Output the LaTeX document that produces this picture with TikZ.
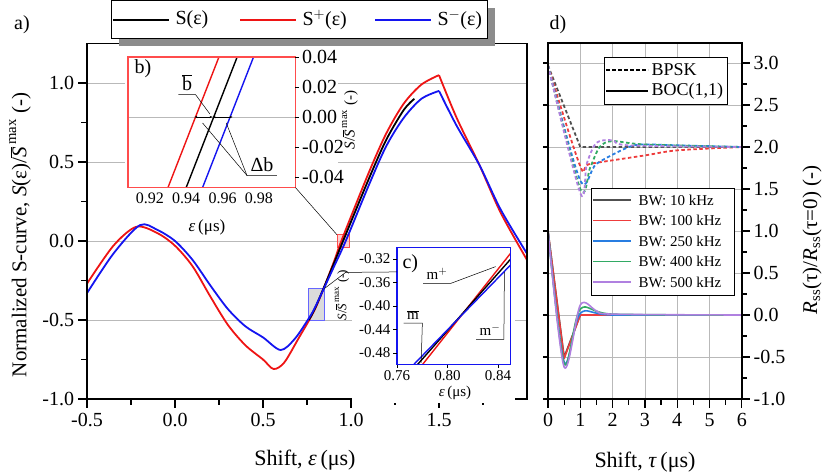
\documentclass[tikz,border=0pt]{standalone}
\usepackage{fontspec}
\setmainfont{Liberation Serif}
\usetikzlibrary{arrows.meta,positioning}
\definecolor{sred}{RGB}{238,20,20}
\definecolor{sblue}{RGB}{20,20,240}
\definecolor{bwgray}{RGB}{80,80,80}
\definecolor{bwred}{RGB}{238,60,60}
\definecolor{bwblue}{RGB}{40,125,225}
\definecolor{bwgreen}{RGB}{50,170,100}
\definecolor{bwpurple}{RGB}{176,128,224}

\begin{document}
\begin{tikzpicture}[
        x=1pt, y=1pt,
        font=\fontsize{20}{22}\selectfont,
        gridline/.style={draw=gray!55, line width=0.8pt},
        frame/.style={draw, line width=1.4pt},
        curve/.style={line width=1.8pt, line join=round},
        bocline/.style={line width=1.6pt, line join=round},
        bpskline/.style={line width=1.8pt, dash pattern=on 3.5pt off 2.5pt},
        tick/.style={line width=1.2pt},
        small/.style={font=\fontsize{15}{17}\selectfont},
        leader/.style={draw, line width=0.5pt}
    ]
    \useasboundingbox (0,0) rectangle (830,475);

    % ---- panel a)
    \begin{scope}[shift={(175pt,234pt)}, x=176pt, y=158pt]
        \foreach \v in {-0.5,0,0.5,1} \draw[gridline] (-0.5,\v) -- (2,\v);
        % zoom boxes
        \draw[draw=red!70, fill=red!30, fill opacity=0.6, line width=0.8pt] (0.92,-0.04) rectangle (0.99,0.04);
        \draw[draw=blue!60, fill=gray!40, fill opacity=0.7, line width=0.8pt] (0.76,-0.5) rectangle (0.85,-0.3);
        \coordinate (zb) at (0.92,0.04);
        \coordinate (zc) at (0.85,-0.3);
        % curves
        \draw[curve, sred] plot[smooth] coordinates {(-0.5,-0.27) (-0.35,-0.03) (-0.22,0.09) (-0.1,0.05) (0.0,-0.03) (0.1,-0.16) (0.2,-0.35) (0.3,-0.53) (0.4,-0.66) (0.5,-0.75) (0.56,-0.81) (0.62,-0.77) (0.7,-0.62) (0.8,-0.42) (0.9,-0.14) (0.945,0.0) (1.1,0.43) (1.2,0.68) (1.3,0.87) (1.4,0.99) (1.5,1.05)};
        \draw[curve, sred] plot[smooth] coordinates {(1.5,1.05) (1.6,0.78) (1.73,0.48) (1.85,0.18) (2.0,-0.12)};
        \draw[curve, black] plot[smooth] coordinates {(0.76,-0.5) (0.8,-0.415) (0.9,-0.15) (0.955,0) (1.1,0.39) (1.2,0.64) (1.3,0.83) (1.36,0.9)};
        \draw[curve, sblue] plot[smooth] coordinates {(-0.5,-0.33) (-0.35,-0.08) (-0.2,0.10) (-0.1,0.07) (0.0,0.0) (0.1,-0.12) (0.2,-0.28) (0.3,-0.43) (0.4,-0.54) (0.5,-0.61) (0.6,-0.69) (0.68,-0.62) (0.76,-0.49) (0.8,-0.41) (0.9,-0.17) (0.97,0.0) (1.1,0.35) (1.2,0.6) (1.3,0.78) (1.4,0.9) (1.5,0.95)};
        \draw[curve, sblue] plot[smooth] coordinates {(1.5,0.95) (1.6,0.73) (1.73,0.48) (1.85,0.2) (2.0,-0.08)};
        % frame and ticks
        \draw[frame] (-0.5,-1) rectangle (2,1.25);
        \foreach \x/\l in {-0.5/-0.5,0/0.0,0.5/0.5,1/1.0,1.5/1.5} {
            \draw[tick] (\x,-1) -- ++(0,-9pt) node[below=1pt] {\l};
        }
        \foreach \x in {-0.25,0.25,0.75,1.25,1.75} \draw[tick] (\x,-1) -- ++(0,-6pt);
        \foreach \y/\l in {-1/-1.0,-0.5/-0.5,0/0.0,0.5/0.5,1/1.0} {
            \draw[tick] (-0.5,\y) -- ++(-9pt,0) node[left=0pt] {\l};
        }
        \foreach \y in {-0.75,-0.25,0.25,0.75} \draw[tick] (-0.5,\y) -- ++(-6pt,0);
    \end{scope}
    \node (la) at (22,450) {a)};
    \node[font=\fontsize{22}{24}\selectfont] (xa) at (305,15) {Shift, \textit{ε}\,(μs)};
    \node[rotate=90, font=\fontsize{21}{23}\selectfont] (ya) at (20,240) {Normalized S-curve, \textit{S}(ε)/$\overline{\mbox{\textit{S}}}^{\,\mathrm{max}}$ (-)};

    % legend a)
    \fill[gray!90] (119,429) rectangle (495,467);
    \draw[fill=white, line width=0.8pt] (111,437) rectangle (487,475);
    \draw[curve, black] (113,455) -- (169,455);
    \node[anchor=west] (ls) at (172,455) {S(ε)};
    \draw[curve, sred] (240,455) -- (296,455);
    \node[anchor=west] (lsp) at (299,455) {S$^+$(ε)};
    \draw[curve, sblue] (375,455) -- (431,455);
    \node[anchor=west] (lsm) at (434,455) {S$^-$(ε)};

    % ---- inset b)
    \fill[white] (125,262) rectangle (338,420);
    \begin{scope}[shift={(-1524.6pt,358pt)}, x=1820pt, y=1500pt]
        \draw[gridline, line width=0.5pt] (0.908,0) -- (1.0,0);
        \begin{scope}
            \clip (0.908,-0.047) rectangle (1.0,0.04);
            \draw[curve, line width=1.4pt, sred] (0.930,-0.047) -- (0.958,0.04);
            \draw[curve, line width=1.4pt, black] (0.940,-0.047) -- (0.968,0.04);
            \draw[curve, line width=1.4pt, sblue] (0.949,-0.047) -- (0.977,0.04);
        \end{scope}
        \draw[{Stealth[length=3pt]}-{Stealth[length=3pt]}, line width=0.6pt] (0.9445,0) -- (0.9545,0);
        \draw[{Stealth[length=3pt]}-{Stealth[length=3pt]}, line width=0.6pt] (0.9545,0) -- (0.9655,0);
        \coordinate (tb) at (0.953,0.002);
        \coordinate (tdl) at (0.949,-0.004);
        \coordinate (tdr) at (0.962,-0.004);
        \draw[draw=red!70, line width=1.2pt] (0.908,-0.047) rectangle (1.0,0.04);
        \coordinate (cb) at (1.0,-0.047);
        \foreach \y/\l in {-0.04/-0.04,-0.02/-0.02,0/0.00,0.02/0.02,0.04/0.04} {
            \draw[line width=0.8pt] (1.0,\y) -- ++(4pt,0) node[right=-1pt] {\l};
        }
        \foreach \x in {0.92,0.94,0.96,0.98} \node[below=2pt, font=\fontsize{16}{18}\selectfont] at (\x,-0.047) {\x};
    \end{scope}
    \node[anchor=west] (lbb) at (131,406) {b)};
    \node[small, font=\fontsize{17}{19}\selectfont] (lx) at (207,248) {\textit{ε}\,(μs)};
    \node[rotate=90, small] (ly) at (350,355) {\textit{S}/$\overline{\mbox{\textit{S}}}^{\,\mathrm{max}}$ (-)};
    \node (bbar) at (187,392) {$\overline{\mbox{b}}$};
    \draw[leader] (bbar.south west) -- (bbar.south east) -- (tb);
    \node (db) at (262,310) {Δb};
    \draw[leader] (db.south east) -- (db.south west) -- (tdl);
    \draw[leader] (db.south west) -- (tdr);
    \draw[leader] (cb) -- (zb);

    % ---- inset c)
    \fill[white] (352,72) rectangle (515,230);
    \begin{scope}[shift={(-562pt,404pt)}, x=1262pt, y=587.5pt]
        \begin{scope}
            \clip (0.76,-0.5) rectangle (0.85,-0.3);
            \draw[curve, line width=1.4pt, sred] (0.78,-0.50) -- (0.85,-0.31);
            \draw[curve, line width=1.4pt, black] (0.776,-0.50) -- (0.85,-0.32);
            \draw[curve, line width=1.4pt, sblue] (0.773,-0.50) -- (0.85,-0.33);
        \end{scope}
        \coordinate (tmp) at (0.838,-0.333);
        \coordinate (tmm) at (0.845,-0.342);
        \coordinate (tmb) at (0.779,-0.497);
        \coordinate (cc) at (0.76,-0.342);
        \draw[draw=sblue, line width=1.4pt] (0.76,-0.5) rectangle (0.85,-0.3);
        \foreach \y/\l in {-0.32/-0.32,-0.36/-0.36,-0.40/-0.40,-0.44/-0.44,-0.48/-0.48} {
            \draw[line width=0.8pt] (0.76,\y) -- ++(-4pt,0) node[left=-1pt, small] {\l};
        }
        \foreach \x in {0.76,0.80,0.84} \draw[line width=0.8pt] (\x,-0.5) -- ++(0,-3pt) node[below=-1pt, small] {\x};
    \end{scope}
    \node[anchor=west] (lc) at (399,211) {c)};
    \node[small] (lcx) at (455,82) {\textit{ε}\,(μs)};
    \node[rotate=90, font=\fontsize{13}{15}\selectfont] (lcy) at (342,180) {\textit{S}/$\overline{\mbox{\textit{S}}}^{\,\mathrm{max}}$ (-)};
    \node[small] (mp) at (437,201) {m$^+$};
    \draw[leader] (mp.south west) -- (mp.south east) -- (tmp);
    \node[small] (mm) at (490,145) {m$^-$};
    \draw[leader] (mm.south west) -- (mm.south east) -- (tmm);
    \node[small] (mb) at (413,160) {$\overline{\mbox{m}}$};
    \draw[leader] (mb.south west) -- (mb.south east) -- (tmb);
    \draw[leader] (zc) -- ++(21pt,16pt) -- (cc);

    % ---- panel d)
    \begin{scope}[shift={(548pt,160pt)}, x=32.3pt, y=84pt]
        \foreach \x in {1,...,5} \draw[gridline] (\x,-1) -- (\x,3.24);
        \foreach \v in {-0.5,0,...,3} \draw[gridline] (0,\v) -- (6,\v);
        % BPSK
        \draw[bpskline, bwgray] (0,2.97) -- (1,2) -- (6,2);
        \draw[bpskline, bwred] plot[smooth] coordinates {(0,2.97) (1,1.77) (1.3,1.8) (3,1.9) (4,1.96) (6,2.0)};
        \draw[bpskline, bwblue] plot[smooth] coordinates {(0,2.97) (1,1.6) (1.5,1.8) (2.5,2.0) (3,2.03) (4,2.02) (6,2.0)};
        \draw[bpskline, bwgreen] plot[smooth] coordinates {(0,2.97) (1,1.5) (1.3,1.75) (1.6,2.0) (2,2.07) (3,2.03) (6,2.0)};
        \draw[bpskline, bwpurple] plot[smooth] coordinates {(0,2.97) (1,1.45) (1.2,1.8) (1.5,2.05) (2,2.08) (2.5,2.02) (6,2.0)};
        % BOC(1,1)
        \draw[bocline, bwgray] (0,1) -- (0.5,-0.5) -- (1,0) -- (6,0);
        \draw[bocline, bwred] (0,1) -- (0.5,-0.52) -- (1,0) -- (6,0);
        \draw[bocline, bwblue] plot[smooth] coordinates {(0,1) (0.5,-0.56) (1,0.02) (2,0) (6,0)};
        \draw[bocline, bwgreen] plot[smooth] coordinates {(0,1) (0.5,-0.58) (1,0.07) (2,0.01) (6,0)};
        \draw[bocline, bwpurple] plot[smooth] coordinates {(0,1) (0.5,-0.62) (1,0.12) (1.5,0.05) (2,0.01) (6,0)};
        % frame and ticks
        \draw[frame] (0,-1) rectangle (6,3.24);
        \foreach \x in {0,...,6} \draw[tick] (\x,-1) -- ++(0,-9pt) node[below=1pt] {\x};
        \foreach \x in {0.5,1.5,...,5.5} \draw[tick] (\x,-1) -- ++(0,-6pt);
        \foreach \y/\l in {-1/-1.0,-0.5/-0.5,0/0.0,0.5/0.5,1/1.0,1.5/1.5,2/2.0,2.5/2.5,3/3.0} {
            \draw[tick] (6,\y) -- ++(8pt,0) node[right=0pt] {\l};
            \draw[tick] (0,\y) -- ++(-5pt,0);
        }
        \foreach \y in {-0.75,-0.25,...,3} \draw[tick] (6,\y) -- ++(5pt,0);
    \end{scope}
    \node (ld) at (558,450) {d)};
    \node[font=\fontsize{22}{24}\selectfont] (xd) at (645,13) {Shift, \textit{τ}\,(μs)};
    \node[rotate=90, font=\fontsize{21}{23}\selectfont] (yd) at (812,235) {\textit{R}\textsubscript{ss}(τ)/\textit{R}\textsubscript{ss}(τ=0) (-)};

    % legends d)
    \draw[fill=white, line width=0.8pt] (604,371) rectangle (727,418);
    \draw[bpskline, black] (606,405) -- (648,405);
    \node[anchor=west, font=\fontsize{18}{20}\selectfont] (lbpsk) at (648,405) {BPSK};
    \draw[bocline, black] (606,384) -- (648,384);
    \node[anchor=west, font=\fontsize{18}{20}\selectfont] (lboc) at (648,384) {BOC(1,1)};
    \draw[fill=white, line width=0.8pt] (591,180) rectangle (734,287);
    \foreach \c/\t/\i in {bwgray/10/0,bwred/100/1,bwblue/250/2,bwgreen/400/3,bwpurple/500/4} {
        \draw[bocline, draw=\c] (593,275-20.5*\i) -- (631,275-20.5*\i);
        \node[anchor=west, font=\fontsize{15}{17}\selectfont] at (635,275-20.5*\i) {BW: \t\ kHz};
    }
\end{tikzpicture}
\end{document}
